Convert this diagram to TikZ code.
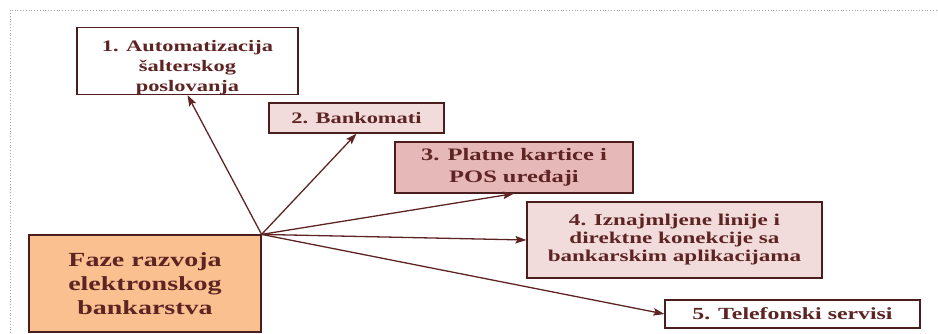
\documentclass[tikz,border=0pt]{standalone}
\usepackage{fontspec}
\setmainfont{Liberation Serif}
\newfontfamily\phasefont[FakeStretch=1.4]{Liberation Serif}
\usepackage{tikz}
\usetikzlibrary{arrows.meta}

\definecolor{phasetext}{HTML}{5E2424}
\definecolor{pinklight}{HTML}{F2DCDB}
\definecolor{pinkdark}{HTML}{E6B9B8}
\definecolor{orangebox}{HTML}{FAC090}

\begin{document}
\begin{tikzpicture}[x=1pt, y=-1pt, >={Stealth[length=11pt, width=7.5pt, inset=2pt]}]
        \tikzset{phase/.style={rectangle, draw=phasetext!80!black, line width=1.2pt, align=center, text=phasetext, font=\phasefont\bfseries\fontsize{16}{20}\selectfont, inner sep=0pt},
                 link/.style={->, draw=phasetext, line width=1.3pt}}
        \useasboundingbox (0,0) rectangle (938,333);
        \draw[dotted, gray!70, line width=0.8pt] (10,333) |- (938,10);
        \node[phase, fill=orangebox, minimum width=232pt, minimum height=97pt, font=\phasefont\bfseries\fontsize{20}{24}\selectfont] (faze) at (145,283.5) {Faze razvoja\\elektronskog\\bankarstva};
        \node[phase, fill=white, minimum width=221pt, minimum height=66pt] (salter) at (187.5,61) {\rule{0pt}{23.5pt}1. Automatizacija\\šalterskog\\poslovanja};
        \node[phase, fill=pinklight, minimum width=175pt, minimum height=30pt] (bankomati) at (356.5,118) {2. Bankomati};
        \node[phase, fill=pinkdark, minimum width=238pt, minimum height=51pt, font=\phasefont\bfseries\fontsize{17.5}{22}\selectfont] (kartice) at (514,167.5) {3. Platne kartice i\\POS uređaji};
        \node[phase, fill=pinklight, minimum width=295pt, minimum height=76pt, font=\phasefont\bfseries\fontsize{16.5}{18}\selectfont] (linije) at (674.5,240) {4. Iznajmljene linije i\\direktne konekcije sa\\bankarskim aplikacijama};
        \node[phase, fill=white, minimum width=255pt, minimum height=28pt, font=\phasefont\bfseries\fontsize{17}{20}\selectfont] (telefon) at (792.5,314) {5. Telefonski servisi};
        \coordinate (hub) at (faze.north east);
        \draw[link] (hub) -- (salter.south);
        \draw[link] (hub) -- (bankomati.south);
        \draw[link] (hub) -- (kartice.south);
        \draw[link] (hub) -- (linije.west);
        \draw[link] (hub) -- (telefon.west);
    \end{tikzpicture}
\end{document}
